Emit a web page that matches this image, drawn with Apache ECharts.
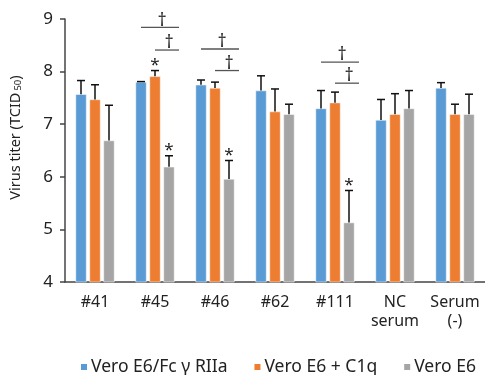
<!DOCTYPE html>
<html>
<head>
<meta charset="utf-8">
<script src="https://cdn.jsdelivr.net/npm/echarts@6/dist/echarts.min.js"></script>
<style>html,body{margin:0;padding:0;background:#fff}#c{width:485px;height:375px}</style>
</head>
<body>
<div id="c"></div>
<script>
const categories = ['#41', '#45', '#46', '#62', '#111', 'NC\nserum', 'Serum\n(-)'];
const seriesNames = ['Vero E6/Fc γ RIIa', 'Vero E6 + C1q', 'Vero E6'];
const fcgValues   = [7.57, 7.80, 7.75, 7.64, 7.30, 7.08, 7.69];
const c1qValues   = [7.47, 7.91, 7.69, 7.24, 7.41, 7.19, 7.19];
const veroValues  = [6.69, 6.19, 5.96, 7.19, 5.13, 7.30, 7.19];
const fcgErrTop   = [7.83, 7.81, 7.84, 7.92, 7.64, 7.47, 7.79];
const c1qErrTop   = [7.75, 8.02, 7.80, 7.67, 7.61, 7.58, 7.38];
const veroErrTop  = [7.36, 6.40, 6.31, 7.38, 5.74, 7.64, 7.57];
const yTicks = [4, 5, 6, 7, 8, 9];
// significance: [category index, bracket level (titer), first bar index]
const daggerBrackets = [[1, 8.84, 0], [1, 8.41, 1], [2, 8.43, 0], [2, 8.02, 1], [4, 8.18, 0], [4, 7.78, 1]];
// asterisks: [category index, bar index]
const asterisks = [[1, 1], [1, 2], [2, 2], [4, 2]];

const colors = ['#5B9BD5', '#ED7D31', '#A5A5A5'];
const FONT = '"Noto Sans", "Open Sans", sans-serif';
const BAR_W = 11, BAR_STEP = 14;
const values = [fcgValues, c1qValues, veroValues];
const errTops = [fcgErrTop, c1qErrTop, veroErrTop];

const errData = [];
for (let s = 0; s < 3; s++) for (let i = 0; i < categories.length; i++) errData.push([i, s, values[s][i], errTops[s][i]]);
const astData = asterisks.map(a => [a[0], a[1], errTops[a[1]][a[0]]]);

const chart = echarts.init(document.getElementById('c'), null, {renderer: 'canvas'});
chart.setOption({
  animation: false,
  textStyle: {fontFamily: FONT},
  grid: {left: 62, right: -6, top: 19, bottom: 93, containLabel: false},
  legend: {
    left: 74, top: 353, itemWidth: 8, itemHeight: 8, itemGap: 25, icon: 'rect',
    textStyle: {fontFamily: FONT, fontSize: 17.5, color: '#222', padding: [0, 0, 0, -2]},
    data: seriesNames
  },
  xAxis: {
    type: 'category', data: categories,
    axisLine: {lineStyle: {color: '#444', width: 1.5}},
    axisTick: {show: false},
    axisLabel: {fontFamily: FONT, fontSize: 16, color: '#222', margin: 11, lineHeight: 19, interval: 0}
  },
  yAxis: {
    type: 'value', min: yTicks[0], max: yTicks[yTicks.length - 1], interval: 1,
    name: '{p|}{a|Virus titer (TCID}{b|50}{a|)}', nameLocation: 'middle', nameGap: 42, nameRotate: 90,
    nameTextStyle: {rich: {
      p: {width: 26},
      a: {fontFamily: FONT, fontSize: 14.5, color: '#222'},
      b: {fontFamily: FONT, fontSize: 9.5, color: '#222', verticalAlign: 'bottom', padding: [5, 0, 0, 2]}
    }},
    axisLine: {show: true, lineStyle: {color: '#444', width: 1.5}},
    axisTick: {show: true, length: 5, lineStyle: {color: '#444', width: 1.5}},
    splitLine: {show: false},
    axisLabel: {fontFamily: FONT, fontSize: 17, color: '#222', margin: 12}
  },
  series: [
    ...seriesNames.map((n, s) => ({
      name: n, type: 'bar', data: values[s], barWidth: BAR_W, barGap: '27%',
      itemStyle: {color: colors[s], borderColor: '#fff', borderWidth: 0.5}
    })),
    {
      type: 'custom', data: errData, encode: {x: 0, y: 2}, z: 5, silent: true,
      renderItem: function (params, api) {
        const c = api.value(0), s = api.value(1);
        const p0 = api.coord([c, api.value(2)]);
        const p1 = api.coord([c, api.value(3)]);
        const x = p0[0] + (s - 1) * BAR_STEP;
        const st = {stroke: '#111', lineWidth: 1.5};
        return {type: 'group', children: [
          {type: 'line', shape: {x1: x, y1: p0[1], x2: x, y2: p1[1]}, style: st},
          {type: 'line', shape: {x1: x - 4, y1: p1[1], x2: x + 4, y2: p1[1]}, style: st}
        ]};
      }
    },
    {
      type: 'custom', data: astData, encode: {x: 0, y: 2}, z: 6, silent: true,
      renderItem: function (params, api) {
        const c = api.value(0), s = api.value(1);
        const p = api.coord([c, api.value(2)]);
        return {type: 'text', style: {text: '*', x: p[0] + (s - 1) * BAR_STEP, y: p[1] + 3,
          fontSize: 17, fontFamily: FONT, fill: '#222', align: 'center', verticalAlign: 'bottom'}};
      }
    },
    {
      type: 'custom', data: daggerBrackets, encode: {x: 0, y: 1}, z: 6, silent: true,
      renderItem: function (params, api) {
        const c = api.value(0), b = api.value(2);
        const p = api.coord([c, api.value(1)]);
        const x1 = p[0] + (b - 1) * BAR_STEP, x2 = p[0] + 24;
        return {type: 'group', children: [
          {type: 'line', shape: {x1: x1, y1: p[1], x2: x2, y2: p[1]}, style: {stroke: '#555', lineWidth: 1.3}},
          {type: 'text', style: {text: '†', x: (x1 + x2) / 2 + 2, y: p[1] + 2, fontSize: 18, fontFamily: FONT,
            fill: '#222', align: 'center', verticalAlign: 'bottom'}}
        ]};
      }
    }
  ]
});
</script>
</body>
</html>
